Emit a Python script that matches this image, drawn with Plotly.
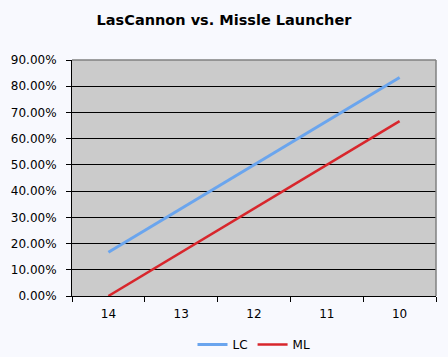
import plotly.graph_objects as go

categories = ["14", "13", "12", "11", "10"]
lc_values = [0.1667, 0.3333, 0.5000, 0.6667, 0.8333]
ml_values = [0.0, 0.1667, 0.3333, 0.5000, 0.6667]
y_ticks = [0.0, 0.1, 0.2, 0.3, 0.4, 0.5, 0.6, 0.7, 0.8, 0.9]

fig = go.Figure()
fig.add_trace(go.Scatter(x=categories, y=lc_values, mode="lines", name="LC",
                         line=dict(color="#6AA5EE", width=3)))
fig.add_trace(go.Scatter(x=categories, y=ml_values, mode="lines", name="ML",
                         line=dict(color="#D8262C", width=2.5)))

fig.update_layout(
    width=448, height=357,
    paper_bgcolor="#F8F9FE",
    plot_bgcolor="#CBCBCB",
    margin=dict(l=72, r=12, t=60, b=61, autoexpand=False),
    title=dict(text="<b>LasCannon vs. Missle Launcher</b>", x=0.5, xanchor="center",
               y=0.945, yanchor="middle",
               font=dict(family="DejaVu Sans", size=14.5, color="#000000")),
    font=dict(family="DejaVu Sans", size=12, color="#000000"),
    showlegend=True,
    legend=dict(orientation="h", x=0.5, xanchor="center", y=-0.205, yanchor="middle",
                bgcolor="rgba(0,0,0,0)", font=dict(size=12), itemwidth=30,
                tracegroupgap=0),
    xaxis=dict(type="category", range=[-0.5, 4.5], tickson="boundaries",
               ticks="outside", ticklen=5, ticklabelstandoff=7, automargin=False,
               tickcolor="#000000", showline=True, linecolor="#000000", linewidth=1,
               showgrid=False, mirror=False, zeroline=False),
    yaxis=dict(range=[0, 0.9], tickvals=y_ticks, tickformat=".2%", ticks="outside",
               ticklen=5, tickcolor="#000000", showline=True, linecolor="#000000",
               linewidth=1, showgrid=True, gridcolor="#000000", gridwidth=1,
               zeroline=False, ticklabelstandoff=7, automargin=False),
)

# gray border on top and right of plot area
fig.add_shape(type="line", xref="paper", yref="paper", x0=0, x1=1, y0=1, y1=1,
              line=dict(color="#808080", width=1.5))
fig.add_shape(type="line", xref="paper", yref="paper", x0=1, x1=1, y0=0, y1=1,
              line=dict(color="#808080", width=1.5))

fig.write_html(
    "out.html",
    config={"displayModeBar": False},
    post_script="document.body.style.margin='0';document.body.style.background='#F8F9FE';",
)
